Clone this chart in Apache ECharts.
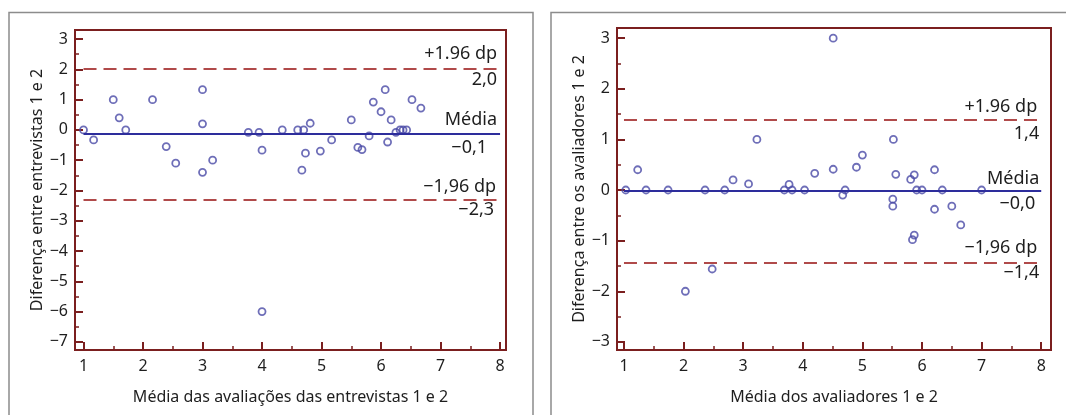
<!DOCTYPE html>
<html><head><meta charset="utf-8">
<script src="https://cdn.jsdelivr.net/npm/echarts@6/dist/echarts.min.js"></script>
<style>html,body{margin:0;padding:0;background:#fff}#c{width:1066px;height:415px}</style>
</head><body><div id="c"></div>
<script>
// ---- data ----
const xTicks = [1, 2, 3, 4, 5, 6, 7, 8];
const xMinorTicks = [1.5, 2.5, 3.5, 4.5, 5.5, 6.5, 7.5];
const leftYTicks = [-7, -6, -5, -4, -3, -2, -1, 0, 1, 2, 3];
const leftYMinorTicks = [-6.5, -5.5, -4.5, -3.5, -2.5, -1.5, -0.5, 0.5, 1.5, 2.5];
const rightYTicks = [-3, -2, -1, 0, 1, 2, 3];
const rightYMinorTicks = [-2.5, -1.5, -0.5, 0.5, 1.5, 2.5];

const leftX = [1.0, 1.17, 1.5, 1.6, 1.71, 2.16, 2.39, 2.55, 3.0, 3.0, 3.0, 3.17, 3.77, 3.95, 4.0, 4.0,
  4.34, 4.6, 4.7, 4.67, 4.73, 4.81, 4.98, 5.17, 5.5, 5.61, 5.68, 5.8, 5.87, 6.0, 6.07, 6.11, 6.17,
  6.25, 6.32, 6.37, 6.43, 6.52, 6.67];
const leftY = [0, -0.33, 1, 0.4, 0, 1, -0.55, -1.1, 1.33, 0.2, -1.4, -1.0, -0.08, -0.08, -0.67, -6,
  0, 0, 0, -1.33, -0.77, 0.22, -0.7, -0.33, 0.33, -0.58, -0.65, -0.2, 0.92, 0.6, 1.33, -0.4, 0.33,
  -0.08, 0, 0, 0, 1, 0.72];

const rightX = [1.03, 1.23, 1.37, 1.74, 2.03, 2.36, 2.48, 2.69, 2.83, 3.09, 3.23, 3.69, 3.77, 3.82,
  4.03, 4.2, 4.51, 4.51, 4.67, 4.71, 4.9, 5.0, 5.52, 5.51, 5.51, 5.56, 5.81, 5.87, 5.87, 5.84, 5.91,
  6.0, 6.21, 6.21, 6.34, 6.5, 6.65, 7.0];
const rightY = [0, 0.4, 0, 0, -2, 0, -1.56, 0, 0.2, 0.12, 1.0, 0, 0.11, 0, 0, 0.33, 3, 0.41, -0.1, 0,
  0.45, 0.69, 1.0, -0.18, -0.32, 0.31, 0.21, 0.3, -0.89, -0.98, 0, 0, 0.4, -0.38, 0, -0.32, -0.69, 0];

// reference lines: [upper +1.96 dp, mean, lower -1.96 dp]
const leftLimits = [2.02, -0.13, -2.30];
const rightLimits = [1.39, -0.02, -1.43];
const leftLabelsTop = ['+1.96 dp', 'Média', '\u22121,96 dp'];
const leftLabelsBottom = ['2,0', '\u22120,1', '\u22122,3'];
const rightLabelsTop = ['+1.96 dp', 'Média', '\u22121,96 dp'];
const rightLabelsBottom = ['1,4', '\u22120,0', '\u22121,4'];
const lineFrom = 1, lineTo = 8;

const leftXName = 'Média das avaliações das entrevistas 1 e 2';
const leftYName = 'Diferença entre entrevistas 1 e 2';
const rightXName = 'Média dos avaliadores 1 e 2';
const rightYName = 'Diferença entre os avaliadores 1 e 2';

// ---- styles ----
const FONT = 'Noto Sans';
const TXT = '#1e1e1e';
const FRAME = '#7b1f1f';
const DASH = '#b04a4a';
const MEAN = '#2d2d9c';
const PT = '#4a4aa6';

const fmt = v => String(v).replace('-', '\u2212');

function xAxes(gridIndex, min, max, name) {
  return [
    { type: 'value', gridIndex, min, max, name, nameLocation: 'middle', nameGap: 39,
      nameTextStyle: { fontFamily: FONT, fontSize: 16, color: TXT },
      axisLine: { show: true, onZero: false, lineStyle: { color: FRAME, width: 2 } },
      axisTick: { show: true, inside: true, length: 8, customValues: xTicks, lineStyle: { color: FRAME, width: 2 } },
      axisLabel: { show: true, customValues: xTicks, margin: 8, fontFamily: FONT, fontSize: 16, color: TXT, formatter: fmt },
      splitLine: { show: false } },
    { type: 'value', gridIndex, min, max, position: 'bottom',
      axisLine: { show: false, onZero: false },
      axisTick: { show: true, inside: true, length: 4, customValues: xMinorTicks, lineStyle: { color: FRAME, width: 1.5 } },
      axisLabel: { show: false }, splitLine: { show: false } }
  ];
}
function yAxes(gridIndex, min, max, name, ticks, minor, gap) {
  return [
    { type: 'value', gridIndex, min, max, name, nameLocation: 'middle', nameGap: gap,
      nameTextStyle: { fontFamily: FONT, fontSize: 16, color: TXT },
      axisLine: { show: true, onZero: false, lineStyle: { color: FRAME, width: 2 } },
      axisTick: { show: true, inside: true, length: 8, customValues: ticks, lineStyle: { color: FRAME, width: 2 } },
      axisLabel: { show: true, customValues: ticks, margin: 7, fontFamily: FONT, fontSize: 16, color: TXT, formatter: fmt },
      splitLine: { show: false } },
    { type: 'value', gridIndex, min, max, position: 'left',
      axisLine: { show: false, onZero: false },
      axisTick: { show: true, inside: true, length: 4, customValues: minor, lineStyle: { color: FRAME, width: 1.5 } },
      axisLabel: { show: false }, splitLine: { show: false } }
  ];
}

function refLines(limits, tops, bottoms, topDist, botDist) {
  const data = [];
  limits.forEach((y, i) => {
    const ls = i === 1 ? { color: MEAN, width: 2, type: 'solid' } : { color: DASH, width: 2, type: [13, 7] };
    data.push([{ coord: [lineFrom, y], lineStyle: ls,
      label: { show: true, position: 'insideEndTop', formatter: tops[i], distance: topDist[i] } },
      { coord: [lineTo, y] }]);
    data.push([{ coord: [lineFrom, y], lineStyle: Object.assign({}, ls, { color: 'rgba(0,0,0,0)' }),
      label: { show: true, position: 'insideEndBottom', formatter: bottoms[i], distance: botDist[i] } },
      { coord: [lineTo, y] }]);
  });
  return {
    silent: true, symbol: ['none', 'none'], animation: false,
    label: { fontFamily: FONT, fontSize: 18, color: TXT },
    data
  };
}

function series(xi, yi, xs, ys, ml) {
  return {
    type: 'scatter', xAxisIndex: xi, yAxisIndex: yi,
    data: xs.map((x, i) => [x, ys[i]]),
    symbol: 'circle', symbolSize: 7,
    itemStyle: { color: 'rgba(255,255,255,0)', borderColor: PT, borderWidth: 1.8 },
    markLine: ml, z: 3
  };
}

const chart = echarts.init(document.getElementById('c'), null, { renderer: 'canvas' });
chart.setOption({
  animation: false,
  backgroundColor: '#fff',
  grid: [
    { left: 75, top: 30, width: 431, height: 320, show: true, borderColor: FRAME, borderWidth: 2, backgroundColor: 'transparent' },
    { left: 617, top: 28, width: 434, height: 322, show: true, borderColor: FRAME, borderWidth: 2, backgroundColor: 'transparent' }
  ],
  xAxis: [...xAxes(0, 0.857, 8.10, leftXName), ...xAxes(1, 0.883, 8.164, rightXName)],
  yAxis: [...yAxes(0, -7.27, 3.30, leftYName, leftYTicks, leftYMinorTicks, 27),
          ...yAxes(1, -3.16, 3.20, rightYName, rightYTicks, rightYMinorTicks, 26)],
  graphic: [
    { type: 'rect', shape: { x: 9, y: 12.5, width: 524, height: 430 }, style: { fill: 'none', stroke: '#8c8c8c', lineWidth: 1.5 }, silent: true },
    { type: 'rect', shape: { x: 551, y: 12.5, width: 530, height: 430 }, style: { fill: 'none', stroke: '#8c8c8c', lineWidth: 1.5 }, silent: true }
  ],
  series: [
    series(0, 0, leftX, leftY, refLines(leftLimits, leftLabelsTop, leftLabelsBottom,
      [[3, 6], [3, 5], [4, 3.5]], [[3, 2], [13, 5], [6, 1]])),
    series(2, 2, rightX, rightY, refLines(rightLimits, rightLabelsTop, rightLabelsBottom,
      [[4, 3.5], [2, 3], [4, 5.5]], [[2, 5], [6, 4], [2, 1]]))
  ]
});
</script></body></html>
